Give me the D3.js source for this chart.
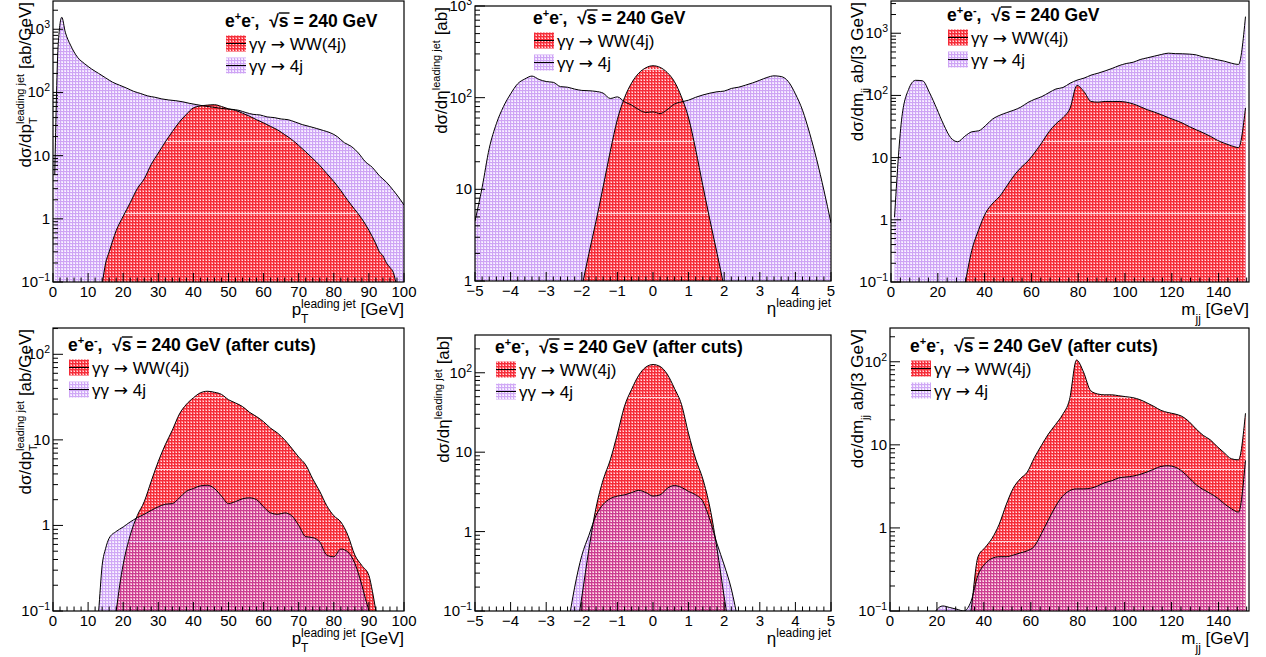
<!DOCTYPE html>
<html><head><meta charset="utf-8">
<script src="https://cdn.jsdelivr.net/npm/d3@7"></script>
<style>body{margin:0;background:#fff}text{font-family:"Liberation Sans",Arial,Helvetica,sans-serif}</style>
</head><body><script>
// ---------- DATA ----------
// Top-left: leading-jet pT (before cuts)
const ptBins4j = [0.5,1.5,2.5,3.5,5,7,9,11,13,15,17,19,21,23,25,27,29,31,33,35,37,39,41,43,45,47,49,51,53,55,57,59,61,63,65,67,69,71,73,75,77,79,81,83,85,87,89,91,93,95,97,99,100];
const pt4j = [5,600,1550,900,560,360,285,235,200,170,145,130,117,104,96,88,84,79,76,74,71,67,64,61,59,57,55,54,52,48,45,44,41,40,38,37,34,31,29,27,25,23,20,16,14,11,8,6.5,4.8,3.8,2.8,2.0,1.65];
const ptBinsWW = [14,15,16,17,18,20,22,24,26,28,30,32,34,36,38,40,42,44,46,48,50,52,54,56,58,60,62,64,66,68,70,72,74,76,78,80,82,84,86,88,90,91,92,93,94,95,96,97,98];
const ptWW = [0.09,0.2,0.3,0.45,0.65,1.1,1.8,3.0,4.3,7.3,11,16.5,24,34,45,57,61,63,64,60,55,52,47,42,37,33,29,25.5,21.5,18,14.5,11.5,9,7,5.2,3.9,2.8,1.95,1.4,1.0,0.66,0.52,0.4,0.3,0.26,0.2,0.17,0.14,0.08];
// Top-middle: leading-jet eta (before cuts)
const etaBins4j = [-5,-4.8,-4.6,-4.4,-4.2,-4,-3.8,-3.6,-3.4,-3.2,-3,-2.8,-2.6,-2.4,-2.2,-2,-1.8,-1.6,-1.4,-1.2,-1,-0.8,-0.6,-0.4,-0.2,0,0.2,0.4,0.6,0.8,1,1.2,1.4,1.6,1.8,2,2.2,2.4,2.6,2.8,3,3.2,3.4,3.6,3.8,4,4.2,4.4,4.6,4.8,5];
const eta4j = [4.5,10.5,28,52,80,110,142,160,172,158,150,147,132,130,124,120,119,117,112,98,102,90,83,74,69,70,67,74,85,90,94,101,107,112,116,118,126,130,137,145,155,166,173,170,150,110,73,41,21,9.8,4.3];
const etaBinsWW = [-2,-1.8,-1.6,-1.4,-1.2,-1,-0.8,-0.6,-0.4,-0.2,0,0.2,0.4,0.6,0.8,1,1.2,1.4,1.6,1.8,2];
const etaWW = [0.85,2.0,4.5,10.7,26,58,100,145,185,212,223,214,188,150,102,60,27,11,4.6,2.0,0.85];
// Top-right and bottom-right: m_jj in 3 GeV bins
const mjjBins = [1.5,4.5,7.5,10.5,13.5,16.5,19.5,22.5,25.5,28.5,31.5,34.5,37.5,40.5,43.5,46.5,49.5,52.5,55.5,58.5,61.5,64.5,67.5,70.5,73.5,76.5,79.5,82.5,85.5,88.5,91.5,94.5,97.5,100.5,103.5,106.5,109.5,112.5,115.5,118.5,121.5,124.5,127.5,130.5,133.5,136.5,139.5,142.5,145.5,148.5,151.5];
const mjj4j = [1.1,40,125,175,172,110,62,34,21,18,22,26,27,33,42,48,53,58,65,77,87,96,111,127,134,157,176,190,212,228,248,272,302,326,342,378,402,428,455,478,470,468,462,448,415,398,375,355,330,315,1850];
const mjjWW = [0,0,0,0,0,0,0,0,0,0,0.09,0.32,0.7,1.3,1.85,2.4,3.5,5.1,6.9,8.8,12.2,17.5,26,35,44,62,145,115,80,78,80,80,80,78,73,66,59,54,49,44,40,36,31.5,28,25,22,19,17,15.5,14.5,63];
// Bottom-left: leading-jet pT (after cuts)
const ptCutBinsWW = [17,18,19,20,22,24,26,28,30,32,34,36,38,40,42,44,46,48,50,52,54,56,58,60,62,64,66,68,70,72,74,76,78,80,82,84,86,88,90,91,92,93];
const ptCutWW = [0.06,0.1,0.2,0.35,0.77,1.3,1.9,3.3,5.6,8.8,13,20,26,31,35.5,37,36,34,29.5,27,24.5,21,18.7,16.3,13.7,12,10,8,6.3,5.1,3.5,2.5,1.7,1.3,1.1,0.77,0.45,0.34,0.26,0.17,0.1,0.06];
const ptCutBins4j = [12.5,13,14,15,16,18,20,22,24,26,28,30,32,34,36,38,40,42,44,46,48,50,52,54,56,58,60,62,64,66,68,70,72,74,76,78,80,82,84,86,88,89,90,91];
const ptCut4j = [0.06,0.1,0.34,0.54,0.71,0.85,0.96,1.1,1.23,1.35,1.5,1.65,1.77,1.8,2.1,2.5,2.7,2.9,2.95,2.7,2.2,1.8,1.9,2.05,2.1,2.0,1.65,1.4,1.35,1.4,1.3,1.0,0.74,0.72,0.64,0.45,0.43,0.53,0.49,0.36,0.2,0.14,0.1,0.06];
// Bottom-middle: leading-jet eta (after cuts)
const etaCutBinsWW = [-2.2,-2,-1.8,-1.6,-1.4,-1.2,-1,-0.8,-0.6,-0.4,-0.2,0,0.2,0.4,0.6,0.8,1,1.2,1.4,1.6,1.8,2,2.2];
const etaCutWW = [0.04,0.15,0.6,2.0,4.5,8.0,17,38,62,93,118,127,120,96,64,40,17,8.2,4.6,2.0,0.6,0.15,0.04];
const etaCutBins4j = [-2.4,-2.2,-2,-1.8,-1.6,-1.4,-1.2,-1,-0.8,-0.6,-0.4,-0.2,0,0.2,0.4,0.6,0.8,1,1.2,1.4,1.6,1.8,2,2.2,2.4];
const etaCut4j = [0.06,0.2,0.5,0.9,1.6,2.2,2.6,2.8,2.9,3.1,3.3,3.1,2.8,2.9,3.5,3.8,3.6,3.2,2.9,2.4,1.4,0.7,0.38,0.19,0.07];
// Bottom-right: m_jj (after cuts)
const mjjCut4j = [0,0,0,0,0,0,0.1,0.115,0.11,0.105,0.1,0.13,0.27,0.37,0.43,0.45,0.45,0.47,0.5,0.53,0.6,0.85,1.25,1.8,2.4,2.8,2.95,2.95,3.0,3.2,3.5,3.7,4.0,4.1,4.2,4.4,4.7,5.1,5.5,5.6,5.4,4.8,4.0,3.3,2.9,2.6,2.3,1.95,1.7,1.55,6.5];
const mjjCutWW = [0,0,0,0,0,0,0,0,0,0,0,0.1,0.45,0.58,0.75,1.1,1.9,3.0,3.9,4.7,7,9.8,13.5,17.5,23,35,105,75,45,41,40,40,39,38,37,35,32,29,26,24.5,23.5,22,19,15.5,13,11.5,9.5,8,6.8,6.6,24];

const seriesNames = [["\u03B3\u03B3 ", "WW(4j)"], ["\u03B3\u03B3 ", "4j"]];

// ---------- DRAWING ----------
const svg = d3.select("body").append("svg").attr("width",1266).attr("height",657);
svg.append("rect").attr("width",1266).attr("height",657).attr("fill","#fff");
const defs = svg.append("defs");
// fill-pattern tiles (ROOT-like dotted hatch); red tile repeats a faint light row every 72 px
function makePattern(id, cell, line, dot, tall, streakRow, originY){
  const H = tall ? 72 : 3;
  const p = defs.append("pattern").attr("id",id).attr("patternUnits","userSpaceOnUse").attr("width",3).attr("height",H);
  if(originY) p.attr("patternTransform",`translate(0,${originY})`);
  for(let r=0;r<H;r+=3){
    p.append("rect").attr("x",0).attr("y",r).attr("width",3).attr("height",3).attr("fill",cell);
    p.append("rect").attr("x",0).attr("y",r).attr("width",1).attr("height",3).attr("fill",line);
    p.append("rect").attr("x",0).attr("y",r).attr("width",3).attr("height",1).attr("fill",line);
    p.append("rect").attr("x",2).attr("y",r+2).attr("width",1).attr("height",1).attr("fill",dot);
  }
  if(tall) p.append("rect").attr("x",0).attr("y",streakRow).attr("width",3).attr("height",1).attr("fill","rgb(255,205,210)");
}
makePattern("redPat","rgb(255,120,128)","rgb(244,44,56)","rgb(255,225,228)",false);
makePattern("redPatTop","rgb(255,120,128)","rgb(244,44,56)","rgb(255,225,228)",true,69,0);
makePattern("redPatBot","rgb(255,120,128)","rgb(244,44,56)","rgb(255,225,228)",true,70,327);
makePattern("purPat","rgb(238,222,255)","rgb(206,164,244)","rgb(252,248,255)",false);
makePattern("purPatT","rgb(220,190,255)","rgb(160,80,235)","rgb(250,245,255)",false);

function rich(parent, parts, fs, sfs, raise, drop, weight){
  const g = parent.append("g");
  let cx = 0;
  parts.forEach(p=>{
    if(p.t!==undefined){
      const t = g.append("text").attr("x",cx).attr("y",0).attr("font-size",fs).attr("font-weight",weight||"normal").style("white-space","pre").text(p.t);
      if(p.family) t.style("font-family",p.family);
      const w = t.node().getComputedTextLength();
      if(p.over){
        g.append("line").attr("x1",cx).attr("x2",cx+w+1).attr("y1",-fs*0.8).attr("y2",-fs*0.8).attr("stroke","#000").attr("stroke-width",1.4);
      }
      cx += w;
    } else {
      let w = 0;
      if(p.sub!==undefined){const t=g.append("text").attr("x",cx).attr("y",drop).attr("font-size",sfs).attr("font-weight",weight||"normal").text(p.sub); w=Math.max(w,t.node().getComputedTextLength());}
      if(p.sup!==undefined){const t=g.append("text").attr("x",cx).attr("y",-raise).attr("font-size",sfs).attr("font-weight",weight||"normal").text(p.sup); w=Math.max(w,t.node().getComputedTextLength());}
      cx += w;
    }
  });
  return {g, width:cx};
}

function drawPanel(c){
  const x = d3.scaleLinear().domain(c.xDomain).range([c.x0,c.x1]);
  const y = d3.scaleLog().domain(c.yDomain).range([c.y1,c.y0]);
  const clipId = "clip-"+c.id;
  defs.append("clipPath").attr("id",clipId).append("rect").attr("x",c.x0).attr("y",c.y0).attr("width",c.x1-c.x0).attr("height",c.y1-c.y0);
  const plot = svg.append("g").attr("clip-path",`url(#${clipId})`);
  const lo = c.yDomain[0]*0.3;
  const toPts = (xs,ys)=>xs.map((v,i)=>[v, Math.max(ys[i], lo)]);
  const area = d3.area().x(d=>x(d[0])).y0(c.y1).y1(d=>y(d[1])).curve(d3.curveMonotoneX);
  const line = d3.line().x(d=>x(d[0])).y(d=>y(d[1])).curve(d3.curveMonotoneX);
  const ww = toPts(c.wwX,c.wwY), qj = toPts(c.qjX,c.qjY);
  const redFill = c.after ? "url(#redPatBot)" : "url(#redPatTop)";
  if(c.after){
    plot.append("path").attr("d",area(ww)).attr("fill",redFill);
    plot.append("path").attr("d",area(qj)).attr("fill","url(#purPatT)").attr("opacity",0.5);
    plot.append("path").attr("d",line(ww)).attr("fill","none").attr("stroke","#000").attr("stroke-width",1);
    plot.append("path").attr("d",line(qj)).attr("fill","none").attr("stroke","#000").attr("stroke-width",1);
  } else {
    plot.append("path").attr("d",area(qj)).attr("fill","url(#purPat)");
    plot.append("path").attr("d",area(ww)).attr("fill",redFill);
    plot.append("path").attr("d",line(qj)).attr("fill","none").attr("stroke","#000").attr("stroke-width",1);
    plot.append("path").attr("d",line(ww)).attr("fill","none").attr("stroke","#000").attr("stroke-width",1);
  }
  // frame
  svg.append("rect").attr("x",c.x0).attr("y",c.y0).attr("width",c.x1-c.x0).attr("height",c.y1-c.y0).attr("fill","none").attr("stroke","#000").attr("stroke-width",1.2);
  const ax = svg.append("g").attr("stroke","#000").attr("stroke-width",1);
  const lab = svg.append("g").attr("font-size",15).attr("fill","#000");
  // x ticks
  const nMin = Math.round((c.xDomain[1]-c.xDomain[0])/c.xMinor);
  for(let i=0;i<=nMin;i++){
    const v = c.xDomain[0]+i*c.xMinor;
    if(v>c.xDomain[1]+1e-9) break;
    const r = v/c.xMajor, isMaj = Math.abs(r-Math.round(r))<1e-6;
    ax.append("line").attr("x1",x(v)).attr("x2",x(v)).attr("y1",c.y1).attr("y2",c.y1-(isMaj?9:4.5));
    if(isMaj){
      const s = (Math.round(v*1000)/1000).toString().replace("-","\u2212");
      lab.append("text").attr("x",x(v)).attr("y",c.y1+15).attr("text-anchor","middle").text(s);
    }
  }
  // y ticks (log)
  const e0 = Math.floor(Math.log10(c.yDomain[0])+1e-9), e1 = Math.ceil(Math.log10(c.yDomain[1]));
  for(let e=e0;e<=e1;e++){
    for(let k=1;k<=9;k++){
      const v = k*Math.pow(10,e);
      if(v < c.yDomain[0]*(1-1e-9) || v > c.yDomain[1]) continue;
      ax.append("line").attr("x1",c.x0).attr("x2",c.x0+(k===1?10:5)).attr("y1",y(v)).attr("y2",y(v));
      if(k===1){
        const t = lab.append("text").attr("x",c.x0-3).attr("y",y(v)+5).attr("text-anchor","end");
        if(e===0) t.text("1");
        else if(e===1) t.text("10");
        else {
          t.append("tspan").text("10");
          t.append("tspan").attr("font-size",10.5).attr("dy",-6).text(e<0?"\u2212"+(-e):String(e));
        }
      }
    }
  }
  // x title
  const xt = rich(svg, c.xTitle, 17, 12, 7.5, 8);
  xt.g.attr("transform",`translate(${c.x1-xt.width},${c.y1+33})`);
  // y title
  const yt = rich(svg, c.yTitle, 17, 11, 7, 6);
  yt.g.attr("transform",`translate(${c.ytX},${c.y0+1}) rotate(-90) translate(${-yt.width},0)`);
  // legend
  const L = c.legend;
  const ttl = rich(svg, [{t:"e"},{sup:"+"},{t:"e"},{sup:"-"},{t:",  \u221A"},{t:"s",over:true},{t:" = 240 GeV"+(c.after?" (after cuts)":"")}], 17.5, 11, 7, 0, "bold");
  ttl.g.attr("transform",`translate(${L.x},${L.y})`);
  const fills = [{f:"url(#redPat)",op:1},{f:c.after?"url(#purPatT)":"url(#purPat)",op:c.after?0.5:1}];
  seriesNames.forEach((s,i)=>{
    const top = L.y + 8.5 + i*22;
    svg.append("rect").attr("x",L.x+1).attr("y",top).attr("width",20).attr("height",16).attr("fill",fills[i].f).attr("opacity",fills[i].op);
    svg.append("line").attr("x1",L.x+1).attr("x2",L.x+21).attr("y1",top+8).attr("y2",top+8).attr("stroke","#000").attr("stroke-width",1);
    const e = rich(svg, [{t:s[0]},{t:"\u2192",family:"DejaVu Sans"},{t:" "+s[1]}], 17, 12, 0, 0);
    e.g.attr("transform",`translate(${L.x+24},${top+14})`);
  });
}

const ptXT = [{t:"p"},{sub:"T",sup:"leading jet"},{t:" [GeV]"}];
const ptYT = [{t:"d\u03C3/dp"},{sub:"T",sup:"leading jet"},{t:" [ab/GeV]"}];
const etaXT = [{t:"\u03B7"},{sup:"leading jet"}];
const etaYT = [{t:"d\u03C3/d\u03B7"},{sup:"leading jet"},{t:" [ab]"}];
const mXT = [{t:"m"},{sub:"jj"},{t:" [GeV]"}];
const mYT = [{t:"d\u03C3/dm"},{sub:"jj"},{t:" ab/[3 GeV]"}];

drawPanel({id:"tl",x0:53,x1:404,y0:1,y1:282,xDomain:[0,100],yDomain:[0.1,2800],xMajor:10,xMinor:2,ytX:31,legend:{x:225,y:27},
  wwX:ptBinsWW,wwY:ptWW,qjX:ptBins4j,qjY:pt4j,xTitle:ptXT,yTitle:ptYT,after:false});
drawPanel({id:"tm",x0:475,x1:831,y0:6,y1:281,xDomain:[-5,5],yDomain:[1,1000],xMajor:1,xMinor:0.2,ytX:447,legend:{x:533,y:24},
  wwX:etaBinsWW,wwY:etaWW,qjX:etaBins4j,qjY:eta4j,xTitle:etaXT,yTitle:etaYT,after:false});
drawPanel({id:"tr",x0:891,x1:1249,y0:1,y1:282,xDomain:[0,153],yDomain:[0.1,3300],xMajor:20,xMinor:4,ytX:863,legend:{x:947,y:21},
  wwX:mjjBins,wwY:mjjWW,qjX:mjjBins,qjY:mjj4j,xTitle:mXT,yTitle:mYT,after:false});
drawPanel({id:"bl",x0:53,x1:404,y0:328,y1:611,xDomain:[0,100],yDomain:[0.1,203],xMajor:10,xMinor:2,ytX:31,legend:{x:68,y:351},
  wwX:ptCutBinsWW,wwY:ptCutWW,qjX:ptCutBins4j,qjY:ptCut4j,xTitle:ptXT,yTitle:ptYT,after:true});
drawPanel({id:"bm",x0:475,x1:831,y0:335,y1:611,xDomain:[-5,5],yDomain:[0.1,299],xMajor:1,xMinor:0.2,ytX:449,legend:{x:495,y:353},
  wwX:etaCutBinsWW,wwY:etaCutWW,qjX:etaCutBins4j,qjY:etaCut4j,xTitle:etaXT,yTitle:etaYT,after:true});
drawPanel({id:"br",x0:890,x1:1249,y0:328,y1:611,xDomain:[0,153],yDomain:[0.1,255],xMajor:20,xMinor:4,ytX:863,legend:{x:910,y:352},
  wwX:mjjBins,wwY:mjjCutWW,qjX:mjjBins,qjY:mjjCut4j,xTitle:mXT,yTitle:mYT,after:true});
</script></body></html>
